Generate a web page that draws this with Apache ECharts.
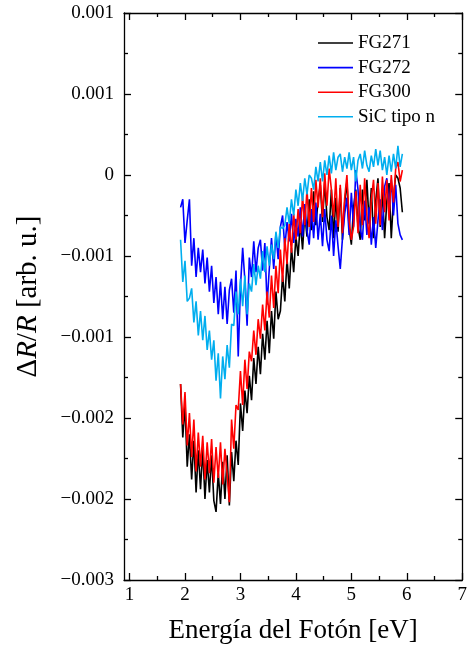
<!DOCTYPE html>
<html>
<head>
<meta charset="utf-8">
<script src="https://cdn.jsdelivr.net/npm/echarts@6/dist/echarts.min.js"></script>
<style>
  html, body { margin: 0; padding: 0; background: #fff; }
  #chart { width: 470px; height: 649px; }
</style>
</head>
<body>
<div id="chart"></div>
<script>
// Photon energy grid (eV)
const energy = [1.92,1.96,2.00,2.04,2.08,2.12,2.16,2.20,2.24,2.28,2.32,2.36,2.40,2.44,2.48,2.52,2.56,2.60,2.64,2.68,
  2.72,2.76,2.80,2.84,2.88,2.92,2.96,3.00,3.04,3.08,3.12,3.16,3.20,3.24,3.28,3.32,3.36,3.40,3.44,3.48,
  3.52,3.56,3.60,3.64,3.68,3.72,3.76,3.80,3.84,3.88,3.92,3.96,4.00,4.04,4.08,4.12,4.16,4.20,4.24,4.28,
  4.32,4.36,4.40,4.44,4.48,4.52,4.56,4.60,4.64,4.68,4.72,4.76,4.80,4.84,4.88,4.92,4.96,5.00,5.04,5.08,
  5.12,5.16,5.20,5.24,5.28,5.32,5.36,5.40,5.44,5.48,5.52,5.56,5.60,5.64,5.68,5.72,5.76,5.80,5.84,5.88,5.92];

// ΔR/R spectra
const fg271 = [-12.9e-4,-16.2e-4,-14.2e-4,-18.0e-4,-16.0e-4,-18.8e-4,-16.4e-4,-19.6e-4,-17.0e-4,-19.4e-4,
  -16.9e-4,-20.0e-4,-17.6e-4,-19.6e-4,-17.3e-4,-20.1e-4,-20.8e-4,-18.4e-4,-20.3e-4,-17.7e-4,
  -20.0e-4,-17.3e-4,-20.4e-4,-17.1e-4,-18.9e-4,-16.4e-4,-17.9e-4,-14.1e-4,-15.8e-4,-13.3e-4,
  -14.7e-4,-12.4e-4,-13.9e-4,-11.3e-4,-12.9e-4,-10.6e-4,-12.3e-4,-9.8e-4,-11.4e-4,-9.0e-4,
  -11.0e-4,-8.4e-4,-10.1e-4,-7.2e-4,-8.9e-4,-8.4e-4,-6.2e-4,-7.8e-4,-5.2e-4,-7.0e-4,
  -4.5e-4,-6.0e-4,-3.8e-4,-5.0e-4,-2.9e-4,-4.6e-4,-2.4e-4,-3.8e-4,-1.5e-4,-3.4e-4,
  -1.0e-4,-3.1e-4,-1.6e-4,-0.6e-4,-2.9e-4,-0.4e-4,-2.6e-4,-3.4e-4,-0.9e-4,-3.9e-4,
  -1.4e-4,-3.5e-4,-0.8e-4,-4.0e-4,-1.7e-4,-0.4e-4,-3.3e-4,-4.3e-4,-2.0e-4,-0.9e-4,
  -3.2e-4,-4.0e-4,-0.9e-4,-2.8e-4,-0.3e-4,-3.0e-4,-0.8e-4,-3.9e-4,-1.6e-4,-0.2e-4,
  -3.2e-4,-1.0e-4,-3.9e-4,-1.6e-4,-0.5e-4,-3.9e-4,-1.4e-4,0.0e-4,-0.2e-4,-0.8e-4,-2.3e-4];

const fg272 = [-2.0e-4,-1.5e-4,-4.2e-4,-2.8e-4,-1.5e-4,-5.6e-4,-3.9e-4,-6.3e-4,-4.5e-4,-6.0e-4,
  -4.6e-4,-6.7e-4,-5.1e-4,-7.2e-4,-5.6e-4,-7.9e-4,-6.3e-4,-8.6e-4,-6.6e-4,-8.9e-4,
  -6.9e-4,-9.2e-4,-7.1e-4,-6.4e-4,-8.5e-4,-5.9e-4,-11.2e-4,-6.9e-4,-4.5e-4,-6.5e-4,
  -9.3e-4,-5.1e-4,-6.3e-4,-4.1e-4,-6.0e-4,-4.5e-4,-4.0e-4,-5.9e-4,-4.2e-4,-8.0e-4,
  -5.8e-4,-3.9e-4,-5.8e-4,-3.6e-4,-5.2e-4,-3.2e-4,-2.5e-4,-4.5e-4,-2.9e-4,-4.1e-4,
  -2.4e-4,-4.2e-4,-2.7e-4,-3.8e-4,-2.0e-4,-3.8e-4,-1.8e-4,-3.4e-4,-4.3e-4,-2.1e-4,
  -3.9e-4,-1.7e-4,-4.0e-4,-2.4e-4,-4.4e-4,-2.1e-4,-4.0e-4,-4.7e-4,-2.5e-4,-5.0e-4,
  -2.8e-4,-4.4e-4,-5.8e-4,-3.9e-4,-2.4e-4,-1.4e-4,-3.7e-4,-1.1e-4,-3.2e-4,0.3e-4,
  -0.9e-4,-3.3e-4,-4.0e-4,-1.6e-4,-3.7e-4,-2.0e-4,-4.3e-4,-2.6e-4,-4.5e-4,-2.8e-4,
  -1.5e-4,-3.4e-4,-0.7e-4,-0.2e-4,-2.0e-4,-0.3e-4,-2.5e-4,-0.6e-4,-3.0e-4,-3.7e-4,-4.0e-4];

const fg300 = [-12.9e-4,-15.4e-4,-13.4e-4,-16.7e-4,-14.7e-4,-17.4e-4,-15.1e-4,-18.3e-4,-15.9e-4,-18.0e-4,
  -16.1e-4,-18.8e-4,-16.5e-4,-18.4e-4,-16.3e-4,-19.0e-4,-16.8e-4,-18.7e-4,-16.5e-4,-19.1e-4,
  -16.9e-4,-18.5e-4,-20.2e-4,-15.1e-4,-16.9e-4,-14.2e-4,-14.5e-4,-12.1e-4,-14.2e-4,-11.4e-4,
  -13.2e-4,-10.9e-4,-11.5e-4,-9.6e-4,-11.1e-4,-8.9e-4,-10.1e-4,-8.0e-4,-9.6e-4,-7.2e-4,
  -8.8e-4,-6.2e-4,-8.2e-4,-5.6e-4,-7.3e-4,-4.6e-4,-6.6e-4,-3.9e-4,-5.5e-4,-3.0e-4,
  -4.8e-4,-2.4e-4,-4.0e-4,-2.1e-4,-3.6e-4,-1.3e-4,-3.1e-4,-0.9e-4,-3.2e-4,-0.8e-4,
  -2.9e-4,-0.3e-4,-2.0e-4,-0.2e-4,-2.6e-4,0.1e-4,-1.9e-4,0.4e-4,-0.9e-4,-2.6e-4,
  -0.2e-4,-3.2e-4,-0.6e-4,-3.6e-4,-1.4e-4,0.0e-4,-2.8e-4,-4.0e-4,-3.2e-4,-1.0e-4,
  -3.6e-4,-0.6e-4,-3.1e-4,-0.2e-4,-2.5e-4,-3.9e-4,-1.5e-4,-0.3e-4,-3.0e-4,-0.5e-4,
  -3.1e-4,-0.1e-4,-2.3e-4,-0.3e-4,-2.8e-4,0.0e-4,-1.7e-4,0.4e-4,0.8e-4,-0.4e-4,0.3e-4];

const sicN = [-4.0e-4,-6.6e-4,-5.3e-4,-7.8e-4,-7.6e-4,-7.0e-4,-9.1e-4,-7.8e-4,-9.9e-4,-8.4e-4,
  -10.2e-4,-8.7e-4,-10.8e-4,-9.6e-4,-11.4e-4,-10.2e-4,-12.7e-4,-11.0e-4,-13.8e-4,-11.2e-4,
  -12.6e-4,-10.5e-4,-11.9e-4,-9.2e-4,-9.3e-4,-7.2e-4,-8.6e-4,-6.4e-4,-8.1e-4,-6.2e-4,
  -8.6e-4,-6.7e-4,-7.2e-4,-5.5e-4,-6.8e-4,-5.6e-4,-6.4e-4,-4.7e-4,-6.0e-4,-4.4e-4,
  -5.6e-4,-4.3e-4,-5.2e-4,-3.5e-4,-4.5e-4,-3.2e-4,-3.3e-4,-3.1e-4,-2.0e-4,-3.0e-4,
  -1.5e-4,-2.5e-4,-0.9e-4,-1.9e-4,-0.5e-4,-1.6e-4,-0.2e-4,-1.2e-4,0.0e-4,-0.2e-4,
  -0.9e-4,0.5e-4,-0.4e-4,0.8e-4,-0.4e-4,0.9e-4,0.0e-4,1.2e-4,0.1e-4,1.4e-4,
  0.3e-4,1.1e-4,1.3e-4,0.2e-4,1.1e-4,0.4e-4,1.4e-4,0.3e-4,1.1e-4,-0.4e-4,
  0.9e-4,1.3e-4,0.4e-4,1.5e-4,0.6e-4,0.2e-4,1.2e-4,0.5e-4,1.6e-4,0.6e-4,
  1.5e-4,0.3e-4,1.1e-4,0.0e-4,1.2e-4,0.2e-4,1.3e-4,0.4e-4,1.8e-4,0.5e-4,1.3e-4];

const seriesNames = ['FG271', 'FG272', 'FG300', 'SiC tipo n'];
const seriesColors = ['#000000', '#0000ff', '#ff0000', '#00aeef'];
const xMajorTicks = [1, 2, 3, 4, 5, 6, 7];
const xMinorTicks = [1.5, 2.5, 3.5, 4.5, 5.5, 6.5];

const FONT = 'Liberation Serif';

function pairs(ys) {
  return energy.map((x, i) => [x, ys[i]]);
}

// tick labels are rounded to three decimals
function yLabel(v) {
  const r = Math.round(Math.abs(v) * 1000 + 1e-9);
  if (r === 0) return '0';
  return (v < 0 ? '\u2212' : '') + (r / 1000).toFixed(3);
}

const X_MIN = 0.9, X_MAX = 7;
const axisLineStyle = { color: '#000', width: 1.3 };

function xAxisDef(position, ticks, len, withLine, withLabels) {
  return {
    type: 'value', min: X_MIN, max: X_MAX, position: position,
    axisLine: { show: withLine, onZero: false, lineStyle: axisLineStyle },
    axisTick: { show: true, inside: true, length: len, customValues: ticks, lineStyle: axisLineStyle },
    axisLabel: withLabels
      ? { show: true, customValues: ticks, fontFamily: FONT, fontSize: 19, color: '#000', margin: 6 }
      : { show: false },
    splitLine: { show: false }
  };
}

const xAxes = [
  Object.assign(xAxisDef('bottom', xMajorTicks, 7, true, true), {
    name: 'Energía del Fotón [eV]', nameLocation: 'middle', nameGap: 37,
    nameTextStyle: { fontFamily: FONT, fontSize: 27, color: '#000' }
  }),
  xAxisDef('bottom', xMinorTicks, 4, false, false),
  xAxisDef('top', xMajorTicks, 7, true, false),
  xAxisDef('top', xMinorTicks, 4, false, false)
];

function yAxisDef(position, withLabels) {
  return {
    type: 'value', min: -0.0025, max: 0.001, interval: 0.0005, position: position,
    axisLine: { show: true, onZero: false, lineStyle: axisLineStyle },
    axisTick: { show: true, inside: true, length: 7, lineStyle: axisLineStyle },
    minorTick: { show: true, splitNumber: 2, length: 4, lineStyle: axisLineStyle },
    axisLabel: withLabels
      ? { show: true, formatter: yLabel, fontFamily: FONT, fontSize: 19, color: '#000', margin: 10 }
      : { show: false },
    splitLine: { show: false },
    minorSplitLine: { show: false }
  };
}

const yAxes = [
  Object.assign(yAxisDef('left', true), {
    name: '{n|Δ}{i|R}{n|/}{i|R}{n| [arb. u.]}',
    nameLocation: 'middle', nameGap: 81, nameRotate: 90,
    nameTextStyle: {
      fontFamily: FONT, fontSize: 29, color: '#000',
      rich: {
        n: { fontFamily: FONT, fontSize: 29, color: '#000' },
        i: { fontFamily: FONT, fontSize: 29, color: '#000', fontStyle: 'italic' }
      }
    }
  }),
  yAxisDef('right', false)
];

const seriesData = [fg271, fg272, fg300, sicN];

const chart = echarts.init(document.getElementById('chart'), null, { renderer: 'canvas' });
chart.setOption({
  animation: false,
  backgroundColor: '#fff',
  grid: { left: 124, right: 4, top: 13, bottom: 68, containLabel: false },
  legend: {
    orient: 'vertical', left: 318, top: 33, padding: 0,
    icon: 'rect', itemWidth: 35, itemHeight: 1.6, itemGap: 4.6,
    textStyle: { fontFamily: FONT, fontSize: 19, color: '#000', lineHeight: 20 },
    data: seriesNames
  },
  xAxis: xAxes,
  yAxis: yAxes,
  series: seriesNames.map((name, i) => ({
    name: name,
    type: 'line',
    xAxisIndex: 0,
    yAxisIndex: 0,
    data: pairs(seriesData[i]),
    symbol: 'none',
    color: seriesColors[i],
    lineStyle: { color: seriesColors[i], width: 1.6 }
  }))
});
</script>
</body>
</html>
